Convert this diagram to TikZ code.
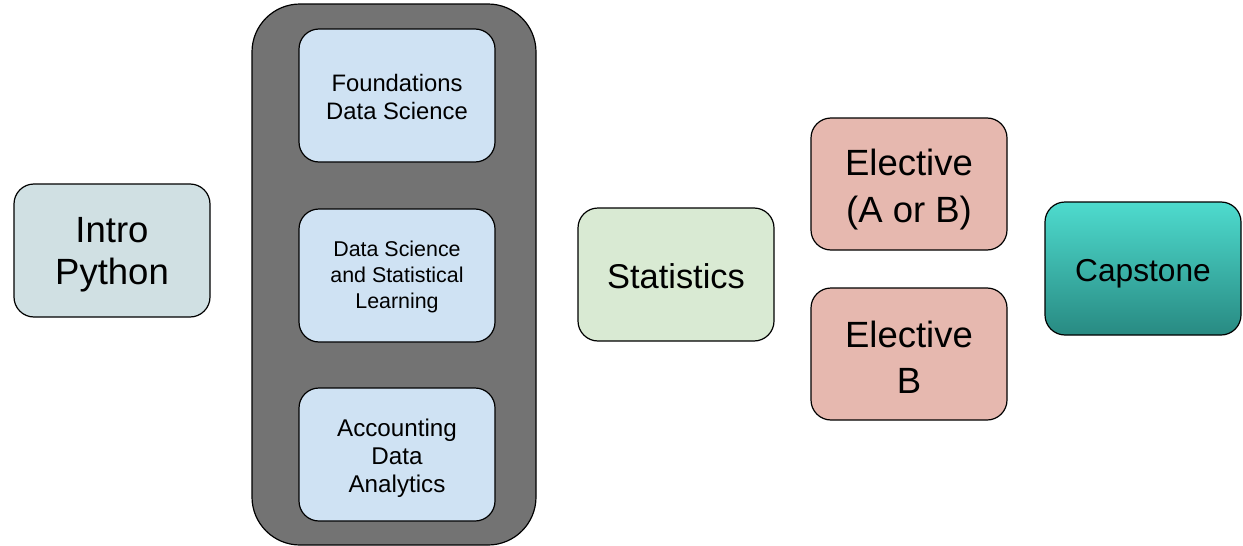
\documentclass[tikz,border=0pt]{standalone}
\usepackage{fontspec}
\setmainfont{Liberation Sans}
\begin{document}
\begin{tikzpicture}[x=1pt,y=-1pt,
  box/.style={draw=black, line width=1.2pt, rounded corners=20pt, inner sep=0pt, minimum width=196pt, minimum height=133pt},
  lbl/.style={align=center, inner sep=0pt, text=black}]
\useasboundingbox (0,0) rectangle (1243,546);
\path[draw=black, line width=1.2pt, fill=black!55, rounded corners=48pt] (252,4) rectangle (536,545);
\node[box, fill={rgb,255:red,208;green,224;blue,227},
  label={[name=introT, lbl, font=\fontsize{36.5}{42}\selectfont, yshift=-4.5pt]center:{Intro\\Python}}] (intro) at (112,250.5) {};
\node[box, fill={rgb,255:red,207;green,226;blue,243},
  label={[name=foundT, lbl, font=\fontsize{23.8}{28}\selectfont, yshift=-1pt]center:{Foundations\\Data Science}}] (found) at (397,95.5) {};
\node[box, fill={rgb,255:red,207;green,226;blue,243},
  label={[name=dsslT, lbl, font=\fontsize{21.4}{26}\selectfont, yshift=-1.5pt]center:{Data Science\\and Statistical\\Learning}}] (dssl) at (397,275.5) {};
\node[box, fill={rgb,255:red,207;green,226;blue,243},
  label={[name=adaT, lbl, font=\fontsize{24.2}{28}\selectfont, yshift=-4pt]center:{Accounting\\Data\\Analytics}}] (ada) at (397,454.5) {};
\node[box, fill={rgb,255:red,217;green,234;blue,211},
  label={[name=statT, lbl, font=\fontsize{34.4}{40}\selectfont, yshift=-1.5pt]center:{Statistics}}] (stat) at (676,274.5) {};
\node[box, minimum height=132pt, fill={rgb,255:red,230;green,184;blue,175},
  label={[name=elAT, lbl, font=\fontsize{36.5}{47}\selectfont, yshift=-6pt]center:{Elective\\(A or B)}}] (elA) at (909,184) {};
\node[box, minimum height=132pt, fill={rgb,255:red,230;green,184;blue,175},
  label={[name=elBT, lbl, font=\fontsize{36.5}{46}\selectfont, yshift=-3pt]center:{Elective\\B}}] (elB) at (909,354) {};
\node[box, top color={rgb,255:red,78;green,219;blue,206}, bottom color={rgb,255:red,40;green,138;blue,130},
  label={[name=capT, lbl, font=\fontsize{31.7}{36}\selectfont, yshift=-5pt]center:{Capstone}}] (cap) at (1143,268.5) {};
\end{tikzpicture}
\end{document}
